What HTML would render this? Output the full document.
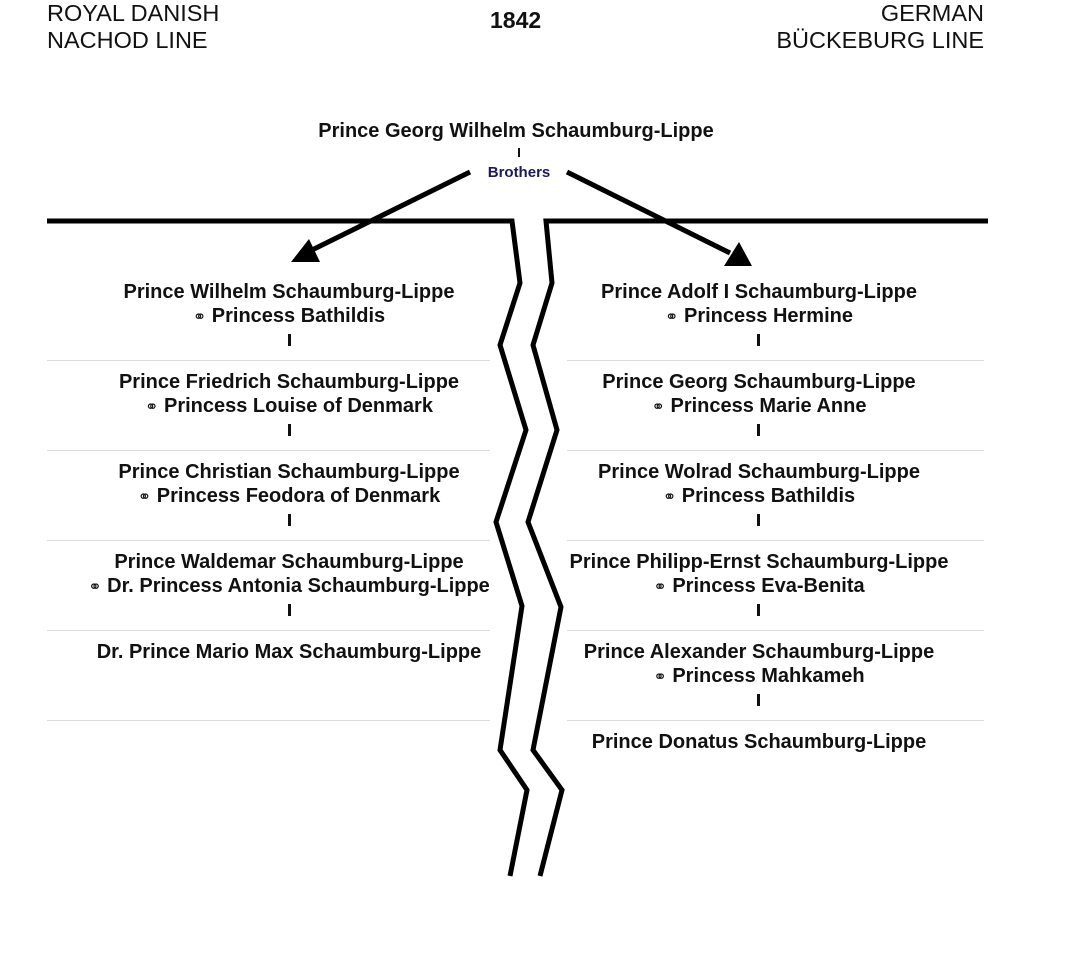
<!DOCTYPE html>
<html><head><meta charset="utf-8"><style>
body{margin:0;width:1067px;height:956px;background:#fff;position:relative;font-family:"Liberation Sans",sans-serif;overflow:hidden}
.t{position:absolute;font-size:23.5px;color:#111;line-height:27px}
.c{position:absolute;text-align:center;font-weight:bold;font-size:20px;line-height:24px;color:#111;width:520px;white-space:nowrap}
.m{font-family:"DejaVu Sans",sans-serif;font-weight:normal;font-size:16px}
.sep{position:absolute;height:1px;background:#ddd}
.v{position:absolute;width:3px;height:12px;background:#111}
</style></head><body>
<div class="t" style="left:47px;top:0">ROYAL DANISH<br>NACHOD LINE</div>
<div class="t" style="right:83px;top:0;text-align:right">GERMAN<br>BÜCKEBURG LINE</div>
<div class="t" style="left:490px;top:7px;font-weight:bold;font-size:23px">1842</div>
<div class="c" style="left:256px;top:119px">Prince Georg Wilhelm Schaumburg-Lippe</div>
<div style="position:absolute;left:518px;top:148px;width:2px;height:9px;background:#111"></div>
<div class="c" style="left:259px;top:161px;font-size:15px;color:#1e1a55">Brothers</div>
<svg width="1067" height="956" style="position:absolute;left:0;top:0">
<g fill="none" stroke="#000" stroke-width="5" stroke-linejoin="miter">
<polyline points="47,221 512,221 520,283 500,345 526,430 496,522 522,606 500,750 527,790 510,876"/>
<polyline points="988,221 546,221 552,283 533,345 557,430 528,522 561,607 533,750 562,790 540,876"/>
<line x1="470" y1="172" x2="312" y2="250"/>
<line x1="567" y1="172" x2="730" y2="253"/>
</g>
<polygon points="291,262 320,262 309,239" fill="#000"/>
<polygon points="724,266 752,266 739,242" fill="#000"/>
</svg>
<div class="sep" style="left:47px;width:443px;top:360px"></div>
<div class="sep" style="left:47px;width:443px;top:450px"></div>
<div class="sep" style="left:47px;width:443px;top:540px"></div>
<div class="sep" style="left:47px;width:443px;top:630px"></div>
<div class="sep" style="left:47px;width:443px;top:720px"></div>
<div class="sep" style="left:567px;width:417px;top:360px"></div>
<div class="sep" style="left:567px;width:417px;top:450px"></div>
<div class="sep" style="left:567px;width:417px;top:540px"></div>
<div class="sep" style="left:567px;width:417px;top:630px"></div>
<div class="sep" style="left:567px;width:417px;top:720px"></div>

<div class="c" style="left:29px;top:280px">Prince Wilhelm Schaumburg-Lippe<br><span class="m">⚭</span> Princess Bathildis</div>
<div class="v" style="left:288px;top:334px"></div>
<div class="c" style="left:29px;top:370px">Prince Friedrich Schaumburg-Lippe<br><span class="m">⚭</span> Princess Louise of Denmark</div>
<div class="v" style="left:288px;top:424px"></div>
<div class="c" style="left:29px;top:460px">Prince Christian Schaumburg-Lippe<br><span class="m">⚭</span> Princess Feodora of Denmark</div>
<div class="v" style="left:288px;top:514px"></div>
<div class="c" style="left:29px;top:550px">Prince Waldemar Schaumburg-Lippe<br><span class="m">⚭</span> Dr. Princess Antonia Schaumburg-Lippe</div>
<div class="v" style="left:288px;top:604px"></div>
<div class="c" style="left:29px;top:640px">Dr. Prince Mario Max Schaumburg-Lippe</div>

<div class="c" style="left:499px;top:280px">Prince Adolf I Schaumburg-Lippe<br><span class="m">⚭</span> Princess Hermine</div>
<div class="v" style="left:757px;top:334px"></div>
<div class="c" style="left:499px;top:370px">Prince Georg Schaumburg-Lippe<br><span class="m">⚭</span> Princess Marie Anne</div>
<div class="v" style="left:757px;top:424px"></div>
<div class="c" style="left:499px;top:460px">Prince Wolrad Schaumburg-Lippe<br><span class="m">⚭</span> Princess Bathildis</div>
<div class="v" style="left:757px;top:514px"></div>
<div class="c" style="left:499px;top:550px">Prince Philipp-Ernst Schaumburg-Lippe<br><span class="m">⚭</span> Princess Eva-Benita</div>
<div class="v" style="left:757px;top:604px"></div>
<div class="c" style="left:499px;top:640px">Prince Alexander Schaumburg-Lippe<br><span class="m">⚭</span> Princess Mahkameh</div>
<div class="v" style="left:757px;top:694px"></div>
<div class="c" style="left:499px;top:730px">Prince Donatus Schaumburg-Lippe</div>
</body></html>
